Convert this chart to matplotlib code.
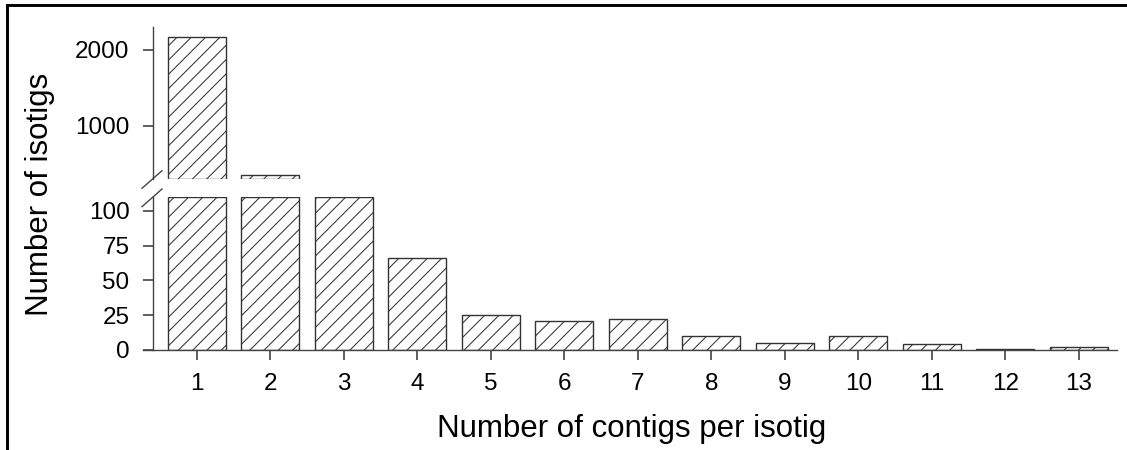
import matplotlib
matplotlib.use('Agg')
import matplotlib.pyplot as plt
from matplotlib.lines import Line2D
from matplotlib.backend_bases import GraphicsContextBase
import numpy as np

# ---- data ----
contigs = [1, 2, 3, 4, 5, 6, 7, 8, 9, 10, 11, 12, 13]
isotigs = [2170, 355, 150, 66, 25, 21, 22, 10, 5, 10, 4, 1, 2]
lower_ticks = [0, 25, 50, 75, 100]
upper_ticks = [1000, 2000]
lower_ylim = (0, 110)
upper_ylim = (300, 2300)
xlabel = "Number of contigs per isotig"
ylabel = "Number of isotigs"

# slightly denser hatching than matplotlib's default
_orig_hatch = GraphicsContextBase.get_hatch_path


def _hatch_path(self, density=7.4):
    return _orig_hatch(self, density)


GraphicsContextBase.get_hatch_path = _hatch_path

plt.rcParams['font.family'] = ['Liberation Sans', 'DejaVu Sans']
plt.rcParams['hatch.linewidth'] = 0.75
plt.rcParams['hatch.color'] = '#333333'

W, H = 1127, 450
fig = plt.figure(figsize=(W / 100, H / 100), dpi=100)


def fx(px):
    return px / W


def fy(py):
    return 1 - py / H


left_px, right_px = 143, 1117
ax_lo = fig.add_axes([fx(left_px), fy(350), fx(right_px) - fx(left_px), fy(197) - fy(350)])
ax_hi = fig.add_axes([fx(left_px), fy(179), fx(right_px) - fx(left_px), fy(27) - fy(179)])

x = np.array(contigs)
v = np.array(isotigs, dtype=float)
xlim = (0.27, 13.52)
spine_x = 0.406
edge = '#333333'
axc = '#444444'
tick_fs = 17.5

# lower panel
ax_lo.bar(x, np.minimum(v, lower_ylim[1]), width=0.79, facecolor='white',
          edgecolor=edge, hatch='//', linewidth=1.0)
ax_lo.set_xlim(*xlim)
ax_lo.set_ylim(*lower_ylim)
ax_lo.set_xticks(contigs)
ax_lo.set_yticks(lower_ticks)
for s in ['top', 'right']:
    ax_lo.spines[s].set_visible(False)
ax_lo.spines['left'].set_position(('data', spine_x))
ax_lo.spines['left'].set_bounds(0, lower_ylim[1])
for s in ['left', 'bottom']:
    ax_lo.spines[s].set_color(axc)
    ax_lo.spines[s].set_linewidth(1.0)
ax_lo.tick_params(direction='out', length=7, width=1.2, color=axc,
                  labelsize=tick_fs)
ax_lo.tick_params(axis='x', pad=9.5)
ax_lo.tick_params(axis='y', pad=10)

# upper panel
m = v > upper_ylim[0]
ax_hi.bar(x[m], v[m] - upper_ylim[0], bottom=upper_ylim[0], width=0.79,
          facecolor='white', edgecolor=edge, hatch='//', linewidth=1.0)
ax_hi.set_xlim(*xlim)
ax_hi.set_ylim(*upper_ylim)
ax_hi.set_yticks(upper_ticks)
ax_hi.set_xticks([])
for s in ['top', 'right', 'bottom']:
    ax_hi.spines[s].set_visible(False)
ax_hi.spines['left'].set_position(('data', spine_x))
ax_hi.spines['left'].set_color(axc)
ax_hi.spines['left'].set_linewidth(1.0)
ax_hi.tick_params(direction='out', length=7, width=1.2, color=axc,
                  labelsize=tick_fs, pad=10)

# break marks
for (x0, y0, x1, y1) in [(142, 188.3, 162, 170.7), (142, 206.7, 162, 189)]:
    fig.add_artist(Line2D([fx(x0), fx(x1)], [fy(y0), fy(y1)], color=axc, lw=1.0))

# labels
fig.text(fx(48), fy(194), ylabel, rotation=90, ha='center', va='baseline',
         fontsize=22.5, rotation_mode='anchor')
fig.text(fx(632), fy(437), xlabel, ha='center', va='baseline', fontsize=22.5)

# frame (top and left)
fig.add_artist(Line2D([fx(6.7), fx(6.7)], [0, fy(5.3)], color='black', lw=2.1,
                      solid_capstyle='projecting'))
fig.add_artist(Line2D([fx(6.7), 1], [fy(5.3), fy(5.3)], color='black', lw=2.1,
                      solid_capstyle='projecting'))

fig.savefig('out.png', dpi=100)
